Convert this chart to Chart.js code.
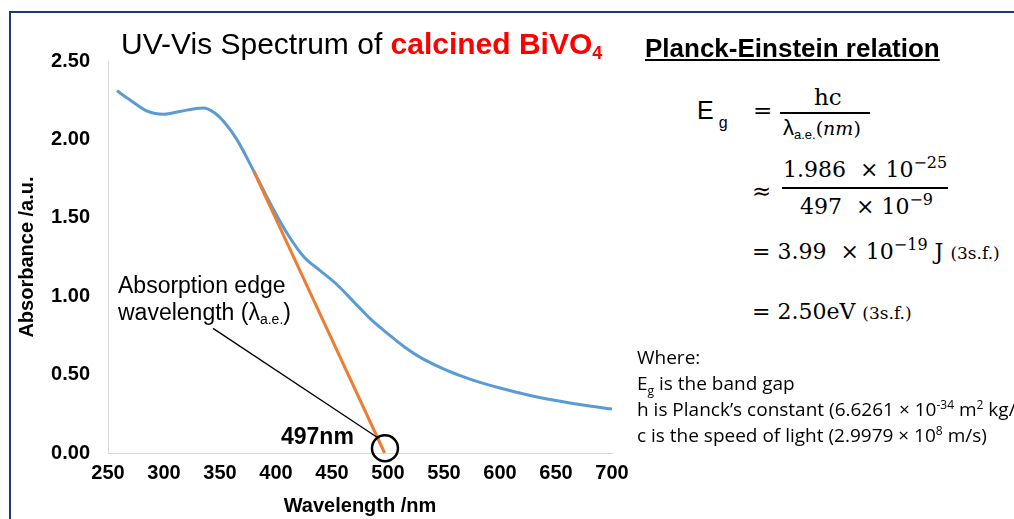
<!DOCTYPE html>
<html>
<head>
<meta charset="utf-8">
<script src="https://cdn.jsdelivr.net/npm/chart.js@4.4.1/dist/chart.umd.min.js"></script>
<style>
  html, body { margin: 0; padding: 0; background: #fff; }
  body { width: 1014px; height: 519px; position: relative; overflow: hidden; font-family: "Liberation Sans", Arial, sans-serif; }
  #frame { position: absolute; left: 9px; top: 11px; width: 1020px; height: 530px; border: 2px solid #1f3a74; box-sizing: border-box; }
  #wrap { position: absolute; left: 0; top: 0; width: 640px; height: 519px; }
  .t { position: absolute; white-space: nowrap; line-height: 1; }
  .serif { font-family: "DejaVu Serif", "Liberation Serif", serif; }
  .small { font-size: 17px; }
  .bar { position: absolute; height: 1.5px; background: #000; }
  .note { font-family: "Open Sans", "Noto Sans", sans-serif; font-size: 19px; line-height: 22px; }
  .note sup, .note sub { font-size: 12px; line-height: 0; }
</style>
</head>
<body>
<div id="frame"></div>
<div id="wrap"><canvas id="uvChart" width="640" height="519"></canvas></div>

<div class="t" style="left:121px; top:29px; font-size:30px;">UV-Vis Spectrum of <span style="color:#ff0000; font-weight:bold;">calcined BiVO<sub style="font-size:18px; vertical-align:-5px; line-height:0;">4</sub></span></div>

<div class="t" style="left:118px; top:272px; font-size:23px; line-height:27px;">Absorption edge<br>wavelength (λ<sub style="font-size:14px; vertical-align:-4px; line-height:0;">a.e.</sub>)</div>
<div class="t" style="left:281px; top:425px; font-size:23px; font-weight:bold;">497nm</div>

<div class="t" style="left:645px; top:35px; font-size:26px; font-weight:bold; text-decoration:underline;">Planck-Einstein relation</div>

<div class="t" style="left:697px; top:98px; font-size:25px;">E<sub style="font-size:16px; vertical-align:-9px; margin-left:5px; line-height:0;">g</sub></div>
<div class="t serif" style="left:753px; top:99px; font-size:23px;">=</div>
<div class="t serif" style="left:814px; top:86px; font-size:23px;">hc</div>
<div class="bar" style="left:780px; top:112px; width:90px;"></div>
<div class="t" style="left:783px; top:117px; font-size:22px;">λ<sub style="font-size:13px; vertical-align:-4px; line-height:0;">a.e.</sub><span class="serif" style="font-size:19px;">(<i>nm</i>)</span></div>

<div class="t serif" style="left:752px; top:180px; font-size:23px;">≈</div>
<div class="t serif" style="left:783px; top:159px; font-size:22px;">1.986 &nbsp;× 10<sup style="font-size:16px; vertical-align:9px; line-height:0;">−25</sup></div>
<div class="bar" style="left:782px; top:187px; width:166px;"></div>
<div class="t serif" style="left:800px; top:196px; font-size:22px;">497 &nbsp;× 10<sup style="font-size:16px; vertical-align:9px; line-height:0;">−9</sup></div>

<div class="t serif" style="left:752px; top:241px; font-size:22px;">= 3.99 &nbsp;× 10<sup style="font-size:16px; vertical-align:9px; line-height:0;">−19</sup> J <span class="small">(3s.f.)</span></div>
<div class="t serif" style="left:752px; top:301px; font-size:22px;">= 2.50eV <span class="small">(3s.f.)</span></div>

<div class="t note" style="left:637px; top:346px;">Where:</div>
<div class="t note" style="left:637px; top:372px;">E<sub>g</sub> is the band gap</div>
<div class="t note" style="left:637px; top:398px;">h is Planck’s constant (6.6261 × 10<sup>-34</sup> m<sup>2</sup> kg/s</div>
<div class="t note" style="left:637px; top:424px;">c is the speed of light (2.9979 × 10<sup>8</sup> m/s)</div>

<script>
// UV-Vis spectrum data
const wavelength = [258, 270, 285, 300, 315, 335, 345, 355, 365, 380, 395, 410, 425, 440, 455, 470, 485, 500, 515, 530, 550, 565, 580, 600, 630, 660, 700];
const absorbance = [2.31, 2.25, 2.18, 2.16, 2.18, 2.20, 2.17, 2.10, 2.00, 1.80, 1.59, 1.40, 1.25, 1.16, 1.07, 0.96, 0.85, 0.76, 0.675, 0.605, 0.535, 0.492, 0.455, 0.415, 0.362, 0.322, 0.28];

// tangent at the absorption edge
const edgeX = [380, 497];
const edgeY = [1.80, 0.0];

// pointer from the label to the edge
const pointerX = [343.8, 490.2];
const pointerY = [0.795, 0.10];

// circled intercept
const markX = [497.3];
const markY = [0.03];

const xTicks = [250, 300, 350, 400, 450, 500, 550, 600, 650, 700];
const yTicks = [0, 0.5, 1.0, 1.5, 2.0, 2.5];

const toPoints = (xs, ys) => xs.map((x, i) => ({ x: x, y: ys[i] }));

const ctx = document.getElementById('uvChart').getContext('2d');

new Chart(ctx, {
  type: 'line',
  data: {
    datasets: [
      {
        label: 'Absorbance',
        data: toPoints(wavelength, absorbance),
        borderColor: '#5b9bd5',
        borderWidth: 3,
        pointRadius: 0,
        cubicInterpolationMode: 'monotone',
        order: 2
      },
      {
        label: 'Edge',
        data: toPoints(edgeX, edgeY),
        borderColor: '#ed7d31',
        borderWidth: 3,
        pointRadius: 0,
        order: 1
      },
      {
        label: 'Pointer',
        data: toPoints(pointerX, pointerY),
        borderColor: '#000000',
        borderWidth: 1.3,
        pointRadius: 0,
        order: 0
      },
      {
        label: 'Mark',
        data: toPoints(markX, markY),
        showLine: false,
        pointRadius: 13,
        pointStyle: 'circle',
        pointBorderColor: '#000000',
        pointBackgroundColor: 'rgba(0,0,0,0)',
        pointBorderWidth: 2.5,
        order: 0
      }
    ]
  },
  options: {
    responsive: false,
    animation: false,
    clip: false,
    layout: { padding: { top: 61, right: 28, left: 0, bottom: 0 } },
    plugins: {
      legend: { display: false },
      tooltip: { enabled: false }
    },
    scales: {
      x: {
        type: 'linear',
        min: 250,
        max: 700,
        afterBuildTicks: axis => { axis.ticks = xTicks.map(v => ({ value: v })); },
        afterFit: axis => { axis.height = 66; },
        grid: { display: false, drawTicks: false },
        border: { display: true, color: '#d9d9d9', width: 1 },
        ticks: {
          color: '#000',
          padding: 8,
          maxRotation: 0,
          font: { family: 'Liberation Sans', size: 20, weight: 'bold' }
        },
        title: {
          display: true,
          text: 'Wavelength /nm',
          color: '#000',
          padding: { top: 0, bottom: 1 },
          font: { family: 'Liberation Sans', size: 20, weight: 'bold' }
        }
      },
      y: {
        min: 0,
        max: 2.5,
        afterBuildTicks: axis => { axis.ticks = yTicks.map(v => ({ value: v })); },
        afterFit: axis => { axis.width = 108; },
        grid: { display: false, drawTicks: false },
        border: { display: true, color: '#d9d9d9', width: 1 },
        ticks: {
          color: '#000',
          padding: 18,
          callback: v => v.toFixed(2),
          font: { family: 'Liberation Sans', size: 20, weight: 'bold' }
        },
        title: {
          display: true,
          text: 'Absorbance /a.u.',
          color: '#000',
          padding: { top: 15, bottom: 0 },
          font: { family: 'Liberation Sans', size: 20, weight: 'bold' }
        }
      }
    }
  }
});
</script>
</body>
</html>
